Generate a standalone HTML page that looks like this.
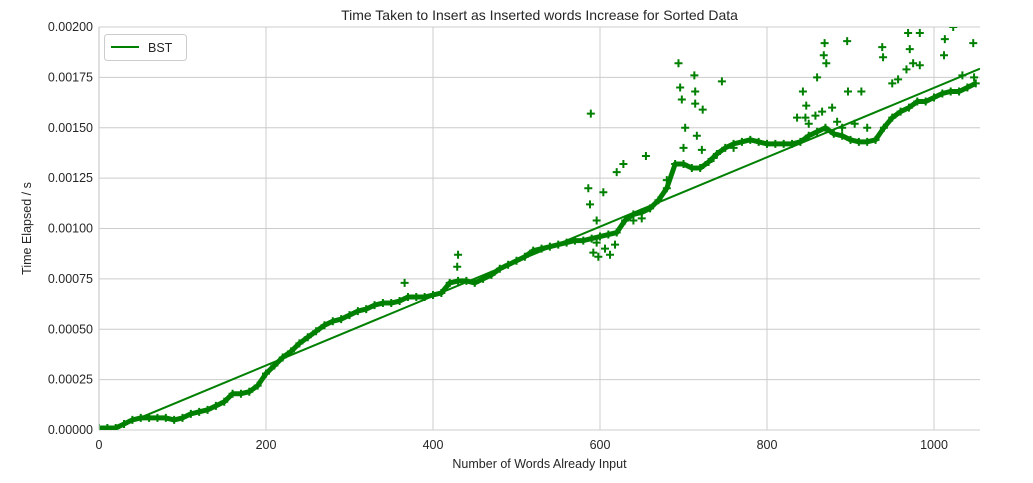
<!DOCTYPE html>
<html><head><meta charset="utf-8"><style>
body{margin:0;background:#fff;}
svg text{font-family:"Liberation Sans",sans-serif;fill:#262626;}
</style></head><body>
<svg id="chart" width="1033" height="478" xmlns="http://www.w3.org/2000/svg"></svg>
<script>
// data (time in units of 1e-5 s)
const mainWords = [0,10,20,30,40,50,60,70,80,90,100,110,120,130,140,150,160,170,180,190,200,210,220,230,240,250,260,270,280,290,300,310,320,330,340,350,360,370,380,390,400,410,420,430,440,450,460,470,480,490,500,510,520,530,540,550,560,570,580,590,600,610,620,630,640,650,660,670,680,690,700,710,720,730,740,750,760,770,780,790,800,810,820,830,840,850,860,870,880,890,900,910,920,930,940,950,960,970,980,990,1000,1010,1020,1030,1040,1050];
const mainTimes = [1,1,1,3,5,6,6,6,6,5,6,8,9,10,12,14,18,18,19,22,28,32,36,39,43,46,49,52,54,55,57,59,60,62,63,63,64,66,66,66,67,68,73,74,74,73,75,77,80,82,84,86,89,90,91,92,93,94,94,95,96,97,98,104,107,108,110,114,120,132,132,130,130,133,137,140,142,143,144,143,142,142,142,142,143,146,148,150,147,146,144,143,143,144,150,155,158,160,163,163,165,167,168,168,170,172];
const outWords = [366,430,429,589,694,713,746,696,698,714,714,723,702,716,655,628,620,586,588,604,869,868,871,896,938,939,969,983,971,1013,1012,1047,1023,860,843,847,836,897,913,967,983,975,957,950,1034,1048,592,598,606,612,618,596,680,700,722,736,850,858,866,878,884,890,905,920,596,640,650,760,846];
const outTimes = [73,87,81,157,182,176,173,170,164,168,162,159,150,146,136,132,128,120,112,118,192,186,182,193,190,185,197,197,189,194,186,192,200,175,168,161,155,168,168,179,181,182,174,172,176,175,88,86,90,87,92,104,124,140,139,135,152,156,158,160,153,150,152,150,93,104,105,140,155];
const xTicks = [0,200,400,600,800,1000];
const yTicks = [0,25,50,75,100,125,150,175,200];
const yTickLabels = ["0.00000","0.00025","0.00050","0.00075","0.00100","0.00125","0.00150","0.00175","0.00200"];

const L=99,R=980,T=27,B=430, XMAX=(R-L)/0.835, YMAX=200;
const sx=v=>L+v/XMAX*(R-L), sy=v=>B-v/YMAX*(B-T);
const svg=document.getElementById('chart'), NS="http://www.w3.org/2000/svg";
function mk(tag,attrs,parent){const e=document.createElementNS(NS,tag);for(const k in attrs)e.setAttribute(k,attrs[k]);(parent||svg).appendChild(e);return e;}
const defs=mk('defs',{});const cp=mk('clipPath',{id:'clip'},defs);mk('rect',{x:L,y:T,width:R-L,height:B-T},cp);
const grid=mk('g',{});


xTicks.forEach(t=>{
  mk('line',{x1:sx(t),x2:sx(t),y1:T,y2:B,stroke:'#cccccc','stroke-width':1},grid);
  const tx=mk('text',{x:sx(t),y:B+19,'text-anchor':'middle','font-size':12.5});tx.textContent=t;
  
  
});
yTicks.forEach((t,i)=>{
  mk('line',{x1:L,x2:R,y1:sy(t),y2:sy(t),stroke:'#cccccc','stroke-width':1},grid);
  const tx=mk('text',{x:L-6,y:sy(t)+4,'text-anchor':'end','font-size':12.5});tx.textContent=yTickLabels[i];
  
  
});
const plot=mk('g',{'clip-path':'url(#clip)'});


const band=mk('polyline',{points:mainWords.map((w,i)=>sx(w)+','+sy(mainTimes[i])).join(' '),fill:'none',stroke:'#008000','stroke-width':5,'stroke-linejoin':'round'},plot);


function plus(x,y){const p=mk('path',{d:`M${x-4},${y}h8M${x},${y-4}v8`,stroke:'#008000','stroke-width':2},plot);
  
  }
mainWords.forEach((w,i)=>plus(sx(w),sy(mainTimes[i])));
outWords.forEach((w,i)=>plus(sx(w),sy(outTimes[i])));
// least squares fit on main series
const n=mainWords.length;
const mx=mainWords.reduce((a,b)=>a+b)/n, my=mainTimes.reduce((a,b)=>a+b)/n;
let num=0,den=0;for(let i=0;i<n;i++){num+=(mainWords[i]-mx)*(mainTimes[i]-my);den+=(mainWords[i]-mx)**2;}
const slope=num/den, icpt=my-slope*mx;
const fit=mk('line',{x1:sx(0),y1:sy(icpt),x2:sx(XMAX),y2:sy(icpt+slope*XMAX),stroke:'#008000','stroke-width':2},plot);


const sp=mk('line',{x1:L,x2:L,y1:T,y2:B,stroke:'#cccccc','stroke-width':1.2});


const ttl=mk('text',{x:(L+R)/2,y:20,'text-anchor':'middle','font-size':14});ttl.textContent='Time Taken to Insert as Inserted words Increase for Sorted Data';


const xl=mk('text',{x:(L+R)/2,y:468,'text-anchor':'middle','font-size':12.5});xl.textContent='Number of Words Already Input';


const yl=mk('text',{x:0,y:0,'text-anchor':'middle','font-size':12.5,transform:`translate(31,${(T+B)/2}) rotate(-90)`});yl.textContent='Time Elapsed / s';


const lg=mk('g',{});


mk('rect',{x:104.5,y:34.5,width:82,height:26,rx:3,fill:'#fff',stroke:'#cccccc'},lg);
mk('line',{x1:111,x2:139,y1:47,y2:47,stroke:'#008000','stroke-width':2},lg);
const lt=mk('text',{x:148,y:52,'font-size':12.5},lg);lt.textContent='BST';


</script>
</body></html>
